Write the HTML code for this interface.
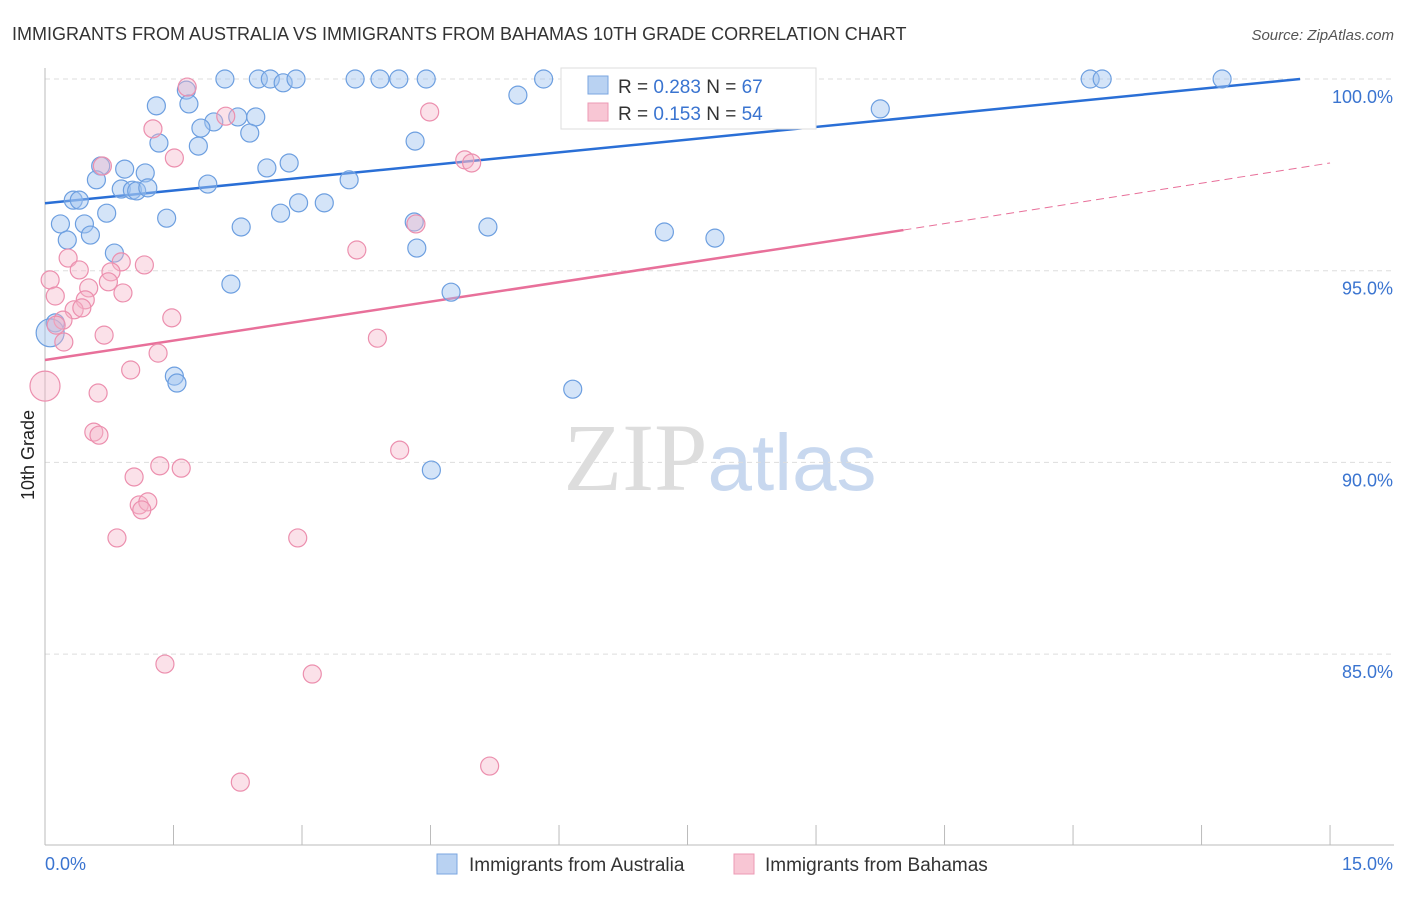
<!DOCTYPE html>
<html><head><meta charset="utf-8"><style>
body{margin:0;background:#fff;font-family:"Liberation Sans",sans-serif}
</style></head><body>
<svg id="c" width="1406" height="892" xmlns="http://www.w3.org/2000/svg">
<text x="12" y="40" font-size="18" fill="#333">IMMIGRANTS FROM AUSTRALIA VS IMMIGRANTS FROM BAHAMAS 10TH GRADE CORRELATION CHART</text>
<text x="1394" y="40" font-size="15" fill="#555" font-style="italic" text-anchor="end">Source: ZipAtlas.com</text>
<text x="720" y="490" font-size="96" fill="#ddd" text-anchor="middle" font-family="Liberation Serif,serif">ZIP<tspan fill="#c8d8ef" font-family="Liberation Sans,sans-serif" font-size="80">atlas</tspan></text>
<text transform="translate(34,455) rotate(-90)" font-size="18" fill="#222" text-anchor="middle">10th Grade</text>
<g id="grid"></g><g id="axes"></g><g id="trend"></g><g id="pts"></g>
<g>
<rect x="561" y="68" width="255" height="61" fill="#fff" stroke="#ddd"/>
<rect x="588" y="76" width="20" height="18" fill="#b9d2f2" stroke="#7aa6e0"/>
<text x="618" y="93" font-size="19" fill="#333">R = <tspan fill="#3a74d0">0.283</tspan>   N = <tspan fill="#3a74d0">67</tspan></text>
<rect x="588" y="103" width="20" height="18" fill="#f8c6d4" stroke="#ec9ab4"/>
<text x="618" y="120" font-size="19" fill="#333">R =  <tspan fill="#3a74d0">0.153</tspan>   N = <tspan fill="#3a74d0">54</tspan></text>
</g>
<g>
<rect x="437" y="854" width="20" height="20" fill="#b9d2f2" stroke="#7aa6e0"/>
<text x="469" y="871" font-size="19" fill="#333">Immigrants from Australia</text>
<rect x="734" y="854" width="20" height="20" fill="#f8c6d4" stroke="#ec9ab4"/>
<text x="765" y="871" font-size="19" fill="#333">Immigrants from Bahamas</text>
</g>
</svg>
<script>
const yTicks=[100,95,90,85];
const yTickLabels=["100.0%","95.0%","90.0%","85.0%"];
const xTickCount=11;
const blueX=[2.10,2.49,2.63,2.78,2.93,3.62,3.91,4.13,4.45,5.82,6.25,12.20,12.34,13.74,1.65,1.97,1.30,1.68,2.25,2.46,2.39,1.82,1.79,1.33,4.32,5.52,6.85,9.75,2.59,2.85,0.65,0.93,1.17,0.60,1.90,3.55,0.89,1.02,1.07,1.20,0.33,0.40,2.96,3.26,0.72,2.75,1.42,0.18,0.46,2.29,5.17,4.31,7.23,7.82,0.26,0.53,0.81,4.34,2.17,4.74,0.12,0.06,1.51,1.54,6.16,4.51];
const blueY=[100,100,100,99.9,100,100,100,100,100,100,100,100,100,100,99.71,98.88,99.30,99.35,99.01,99.01,98.59,98.72,98.25,98.33,98.38,99.58,99.45,99.22,97.68,97.81,97.73,97.65,97.55,97.37,97.26,97.37,97.13,97.10,97.08,97.16,96.84,96.84,96.77,96.77,96.50,96.50,96.37,96.22,96.22,96.14,96.14,96.27,96.01,95.85,95.80,95.93,95.46,95.59,94.65,94.44,93.64,93.38,92.25,92.07,91.91,89.80];
const pinkX=[1.66,8.85,2.11,4.49,1.26,1.51,0.67,4.90,4.98,4.33,3.64,0.27,0.89,1.16,0.40,0.77,0.06,0.74,0.51,0.91,0.12,0.47,0.34,0.43,0.21,0.13,1.48,0.69,3.88,0.22,1.32,1.00,0.00,0.62,0.57,0.63,4.14,1.34,1.59,1.04,1.10,1.20,1.13,0.84,2.95,1.40,3.12,5.19,2.28];
const pinkY=[99.79,99.97,99.03,99.14,98.70,97.94,97.73,97.89,97.81,96.22,95.54,95.33,95.23,95.15,95.02,94.97,94.76,94.71,94.55,94.42,94.34,94.24,93.98,94.03,93.71,93.58,93.77,93.32,93.24,93.14,92.85,92.41,91.99,91.81,90.79,90.71,90.32,89.91,89.85,89.62,88.89,88.97,88.76,88.03,88.03,84.74,84.48,82.08,81.66];
const blueTrend=[0,96.76,14.65,100];
const pinkTrend=[0,92.67,10.02,96.06,15,97.81];
const NS="http://www.w3.org/2000/svg";
const X=v=>45+v*85.67, Y=v=>79+(100-v)*38.34;
function mk(t,a,p){const e=document.createElementNS(NS,t);for(const k in a)e.setAttribute(k,a[k]);p.appendChild(e);return e;}
const grid=document.getElementById('grid'),axes=document.getElementById('axes');
yTicks.forEach((t,i)=>{
 const l=mk('line',{x1:45,x2:1394,y1:Y(t),y2:Y(t),stroke:'#ddd','stroke-dasharray':'5,4'},grid);
 
 
 const tx=mk('text',{x:1393,y:Y(t)+24,'font-size':18,fill:'#3a74d0','text-anchor':'end'},axes);
 tx.textContent=yTickLabels[i];
 
 
});
mk('line',{x1:45,x2:45,y1:68,y2:845,stroke:'#bbb'},axes);
mk('line',{x1:45,x2:1394,y1:845,y2:845,stroke:'#bbb'},axes);
for(let i=0;i<xTickCount;i++){const t=mk('line',{x1:X(i*1.5),x2:X(i*1.5),y1:825,y2:845,stroke:'#bbb'},axes);
 
 }
const x0=mk('text',{x:45,y:870,'font-size':18,fill:'#3a74d0'},axes);x0.textContent='0.0%';


const x1=mk('text',{x:1393,y:870,'font-size':18,fill:'#3a74d0','text-anchor':'end'},axes);x1.textContent='15.0%';


const pts=document.getElementById('pts');
blueX.forEach((x,i)=>{const big=i===61;const c=mk('circle',{cx:X(x),cy:Y(blueY[i]),r:big?14:9,fill:'rgba(160,195,240,0.45)',stroke:'#6d9fe0','stroke-width':1.2},pts);
 
 });
pinkX.forEach((x,i)=>{const big=i===32;const c=mk('circle',{cx:X(x),cy:Y(pinkY[i]),r:big?15:9,fill:'rgba(246,180,200,0.4)',stroke:'#ec8fae','stroke-width':1.2},pts);
 
 });
const tr=document.getElementById('trend');
const bl=mk('line',{x1:X(blueTrend[0]),y1:Y(blueTrend[1]),x2:X(blueTrend[2]),y2:Y(blueTrend[3]),stroke:'#2a6fd6','stroke-width':2.5},tr);


const pl=mk('line',{x1:X(pinkTrend[0]),y1:Y(pinkTrend[1]),x2:X(pinkTrend[2]),y2:Y(pinkTrend[3]),stroke:'#e8709a','stroke-width':2.5},tr);


const pd=mk('line',{x1:X(pinkTrend[2]),y1:Y(pinkTrend[3]),x2:X(pinkTrend[4]),y2:Y(pinkTrend[5]),stroke:'#e8709a','stroke-width':1,'stroke-dasharray':'8,5'},tr);


</script>
</body></html>
